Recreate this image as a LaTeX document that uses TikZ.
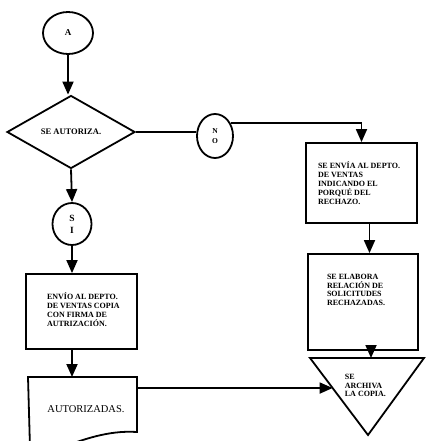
\documentclass[tikz,border=0pt]{standalone}
\usepackage{fontspec}
\setmainfont{Liberation Serif}
\usetikzlibrary{shapes.geometric,arrows.meta,calc}

\tikzset{
  arr/.style={-{Triangle[length=13pt,width=11pt]}},
  conn/.style={ellipse,draw,inner sep=0pt,align=center,font=\bfseries\fontsize{7.5}{10}\selectfont},
  proc/.style={draw,inner sep=0pt},
  txt/.style={inner sep=0pt,align=left,font=\bfseries\fontsize{8}{8.8}\selectfont},
}

\begin{document}
\begin{tikzpicture}[x=1pt,y=-1pt,line width=1.8pt]
  \useasboundingbox (0,0) rectangle (425,441);

  % Draw connectors and decision
  \node[conn,minimum width=50pt,minimum height=42pt,font=\bfseries\fontsize{9}{10}\selectfont] (a) at (68,33) {A};
  \node[diamond,draw,inner sep=0pt,minimum width=128pt,minimum height=73pt,font=\bfseries\fontsize{8.5}{10}\selectfont] (auth) at (71,132) {SE AUTORIZA.};
  \node[conn,minimum width=36pt,minimum height=44pt] (no) at (215,136) {N\\O};
  \node[conn,minimum width=39pt,minimum height=42pt,font=\bfseries\fontsize{9.5}{12}\selectfont] (si) at (72,224) {S\\I};

  % Draw boxes
  \node[proc,minimum width=111pt,minimum height=80pt] (rej) at (361.5,183) {};
  \node[txt,anchor=north west] (rejtxt) at ([shift={(12,19)}]rej.north west) {SE ENVÍA AL DEPTO.\\DE VENTAS\\INDICANDO EL\\PORQUÉ DEL\\RECHAZO.};
  \node[proc,minimum width=110pt,minimum height=96pt] (rel) at (363,302) {};
  \node[txt,anchor=north west] (reltxt) at ([shift={(19,20)}]rel.north west) {SE ELABORA\\RELACIÓN DE\\SOLICITUDES\\RECHAZADAS.};
  \node[proc,minimum width=111pt,minimum height=75pt] (env) at (81.5,311.5) {};
  \node[txt,anchor=north west] (envtxt) at ([shift={(21,19)}]env.north west) {ENVÍO AL DEPTO.\\DE VENTAS COPIA\\CON FIRMA DE\\AUTRIZACIÓN.};

  % Draw document and file
  \coordinate (d1) at (28,377);
  \coordinate (d2) at (137,377);
  \coordinate (d3) at (137,432);
  \draw (30,448) -- (d1) -- (d2) -- (d3) .. controls (108,430) and (82,440) .. (60,448);
  \node[font=\fontsize{10.5}{12}\selectfont] (autz) at (86,409) {AUTORIZADAS.};
  \coordinate (t1) at (310,358);
  \coordinate (t2) at (424,358);
  \coordinate (t3) at (368,435);
  \draw (t1) -- (t2) -- (t3) -- cycle;
  \node[txt,anchor=north west] (arch) at (344,373) {SE\\ARCHIVA\\LA COPIA.};

  % Draw flow
  \draw[arr] (a.south) -- (a.south |- auth.north);
  \draw[arr] (auth.south) -- (si.north);
  \draw[arr] (si.south) -- (si.south |- env.north);
  \draw[arr] (env.south -| si.south) -- (si.south |- d1);
  \draw (auth.east) -- (auth.east -| no.west);
  \draw[arr] (no.40) -| (rej.north);
  \draw[arr] ([xshift=8pt]rej.south) -- ([xshift=8pt]rej.south |- rel.north);
  \draw[arr] ([xshift=8pt]rel.south) -- ([xshift=8pt]rel.south |- t1);
  \coordinate (dout) at (137,388);
  \coordinate (tin) at ($(t1)!0.39!(t3)$);
  \draw[arr] (dout) -- (tin);
\end{tikzpicture}
\end{document}
